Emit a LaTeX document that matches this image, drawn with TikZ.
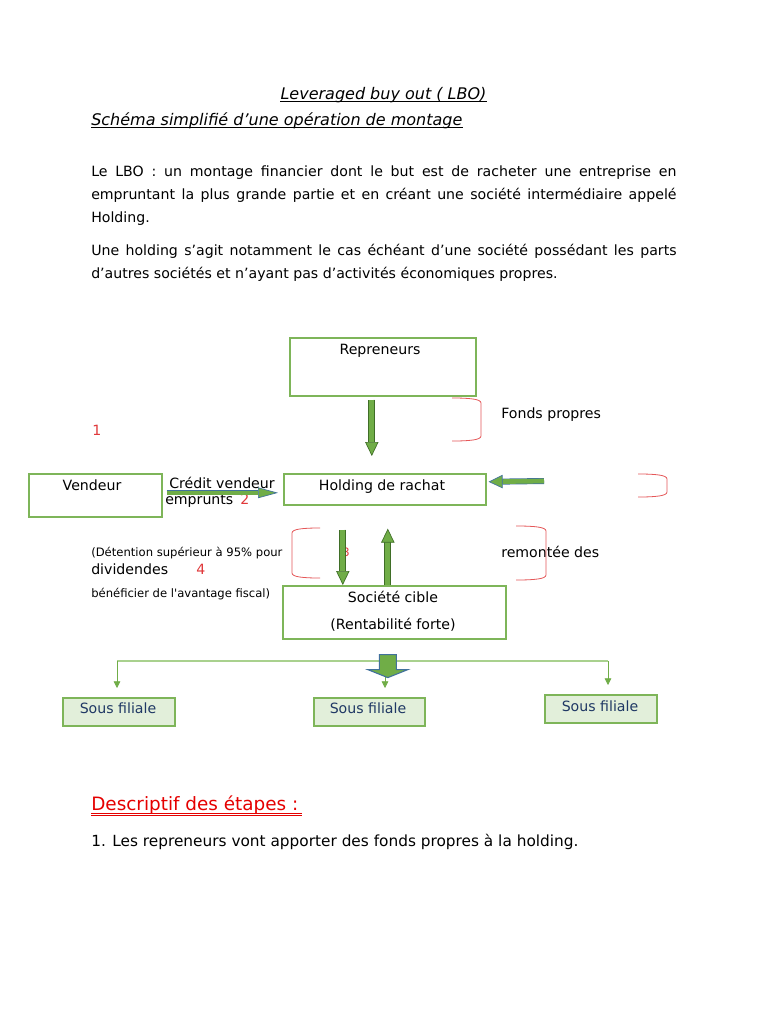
\documentclass[tikz,border=0pt]{standalone}
\usepackage{fontspec}
\setmainfont{DejaVu Sans}
\definecolor{lboGreen}{HTML}{70AD47}
\definecolor{lboGreenDark}{HTML}{3F6E27}
\definecolor{lboBlue}{HTML}{41719C}
\definecolor{lboLight}{HTML}{E2EFDA}
\definecolor{lboLine}{HTML}{A9D18E}
\definecolor{lboRed}{HTML}{E0393B}
\definecolor{lboNavy}{HTML}{1F3864}
\usetikzlibrary{
	arrows.meta,
	positioning,
	calc
}

\begin{document}
\begin{tikzpicture}[x=0.75pt, y=-0.75pt,
		txt/.style={inner sep=0pt, font=\fontsize{10.6pt}{17.25pt}\selectfont},
		small/.style={txt, font=\fontsize{8.7pt}{12pt}\selectfont},
		num/.style={txt, text=lboRed},
		para/.style={txt, text width=439pt, align=justify, anchor=base west},
		box/.style={draw=lboGreen!90, line width=1.2pt, anchor=north west, inner sep=0pt},
		filiale/.style={box, fill=lboLight},
		fatArrow/.style={draw=lboGreenDark, line width=0.5pt, double=lboGreen, double distance=4pt,
			-{Triangle[length=10.5pt, width=10pt, fill=lboGreen]}},
		bluArrow/.style={fatArrow, draw=lboBlue},
		thinArrow/.style={draw=lboGreen, line width=0.6pt, shorten >=6.75pt,
			-{Triangle[length=5pt, width=5pt]}},
		bracket/.style={draw=lboRed!85, line width=0.6pt},
		souligne/.style={line width=0.6pt}
	]
	\fill[white] (0,0) rectangle (768,1024);
	\useasboundingbox (0,0) rectangle (768,1024);

	% titres
	\node[txt, anchor=base, font=\fontsize{12pt}{14pt}\selectfont\itshape] (titre) at (383.5,99) {Leveraged buy out ( LBO)};
	\node[txt, anchor=base west, font=\fontsize{12pt}{14pt}\selectfont\itshape] (soustitre) at (91,125) {Schéma simplifié d’une opération de montage\ };
	\draw[souligne] ($(titre.base west)+(0,2.5)$) -- ($(titre.base east)+(0,2.5)$);
	\draw[souligne] ($(soustitre.base west)+(0,2.5)$) -- ($(soustitre.base east)+(0,2.5)$);
	\node[para] (def) at (91,176) {Le LBO~: un montage financier dont le but est de racheter une entreprise en\linebreak
		empruntant la plus grande partie et en créant une société intermédiaire appelé\linebreak Holding.};
	\node[para] (holdingdef) at (91,255) {Une holding s’agit notamment le cas échéant d’une société possédant les parts\linebreak
		d’autres sociétés et n’ayant pas d’activités économiques propres.};

	% boites
	\node[box, minimum width=139.5pt, minimum height=43.5pt] (rep) at (289,337) {};
	\node[box, minimum width=99.75pt, minimum height=32.25pt] (vend) at (28,473) {};
	\node[box, minimum width=151.5pt, minimum height=23.25pt] (hold) at (283,473) {};
	\node[box, minimum width=167.25pt, minimum height=39.75pt] (cible) at (282,585) {};
	\node[filiale, minimum width=84pt, minimum height=21pt] (sf1) at (62,697) {};
	\node[filiale, minimum width=83.25pt, minimum height=21pt] (sf2) at (313,697) {};
	\node[filiale, minimum width=84pt, minimum height=21pt] (sf3) at (544,694) {};

	% textes des boites
	\node[txt, anchor=base] (repT) at (380,354) {Repreneurs};
	\node[txt, anchor=base] (vendT) at (92,490) {Vendeur};
	\node[txt, anchor=base] (holdT) at (382,490) {Holding de rachat};
	\node[txt, anchor=base] (cibleT) at (393,602) {Société cible};
	\node[txt, anchor=base] (rentaT) at (393,629) {(Rentabilité forte)};
	\foreach \n/\x/\y in {1/118/713, 2/368/713, 3/600/711}{
		\node[txt, anchor=base, text=lboNavy] (sf\n T) at (\x,\y) {Sous filiale};
	}

	% libelles
	\node[txt, anchor=base west] (fonds) at (501,418) {Fonds propres};
	\node[num, anchor=base west] (n1) at (92,435) {1};
	\node[txt, anchor=base west] (credit) at (169,488) {Crédit vendeur};
	\node[txt, anchor=base west] (emprunts) at (165,504) {emprunts};
	\node[num, anchor=base west] (n2) at (240,504) {2};
	\node[small, anchor=base west] (detention) at (91,556) {(Détention supérieur à 95\% pour};
	\node[num, anchor=base west, font=\fontsize{8.7pt}{12pt}\selectfont] (n3) at (342,556) {3};
	\node[txt, anchor=base west] (remontee) at (501,557) {remontée des};
	\node[txt, anchor=base west] (divid) at (91,574) {dividendes};
	\node[num, anchor=base west] (n4) at (196,574) {4};
	\node[small, anchor=base west] (fiscal) at (91,597) {bénéficier de l\textquotesingle avantage fiscal)};

	% accolades rouges
	\foreach \x/\y/\w/\h in {452/398/29/43, 638/474/29/23, 516/526/30/54}{
		\draw[bracket] (\x,\y) .. controls (\x+0.6*\w,\y) and (\x+\w,\y+1) .. (\x+\w,\y+5)
			-- (\x+\w,\y+\h-5) .. controls (\x+\w,\y+\h-1) and (\x+0.6*\w,\y+\h) .. (\x,\y+\h);
	}
	\draw[bracket] (320,528) .. controls (303,528) and (292,529) .. (292,533)
		-- (292,573) .. controls (292,577) and (303,578) .. (320,578);

	% fleches
	\coordinate (banque) at (544,481);
	\draw[fatArrow] ($(rep.south)+(-11,3)$) -- ($(hold.north)+(-13,-17)$);
	\draw[bluArrow, double distance=3pt, -{Triangle[length=15pt, width=8pt, fill=lboGreen]}] ($(vend.east)+(4,-2.5)$) -- ($(hold.west)+(-5,3.5)$);
	\draw[bluArrow, double distance=3.5pt] (banque) -- ($(hold.east)+(2,-7.5)$);
	\draw[fatArrow] ($(hold.south)+(-42,24)$) -- ($(cible.north)+(-51.5,0)$);
	\draw[fatArrow] ($(cible.north)+(-6.5,0)$) -- ($(hold.south)+(3,23)$);

	% vers les sous filiales
	\coordinate (busL) at (117,661);
	\coordinate (busM) at (385,661);
	\coordinate (busR) at (608,661);
	\draw[lboLine, line width=0.9pt] (busL) -- (busR);
	\draw[thinArrow] (busL) -- (busL |- sf1.north);
	\draw[thinArrow] (busM) -- (busM |- sf2.north);
	\draw[thinArrow] (busR) -- (busR |- sf3.north);
	\coordinate (blk) at ($(cible.south)+(-6.5,15)$);
	\draw[fill=lboGreen, draw=lboBlue, line width=0.8pt] ($(blk)+(-8.5,0)$) -- ++(17,0) -- ++(0,15)
		-- ++(11.5,0) -- ++(-20,8) -- ++(-20,-8) -- ++(11.5,0) -- cycle;

	% etapes
	\node[txt, anchor=base west, text=red!90!black, font=\fontsize{13.8pt}{16pt}\selectfont] (etapes) at (91,810) {Descriptif des étapes :};
	\draw[souligne, red!90!black] ($(etapes.base west)+(0,3)$) -- ($(etapes.base east)+(3,3)$);
	\draw[souligne, red!90!black] ($(etapes.base west)+(0,5.5)$) -- ($(etapes.base east)+(3,5.5)$);
	\node[txt, anchor=base west, font=\fontsize{11.5pt}{14pt}\selectfont] (etape1) at (91,846) {1. Les repreneurs vont apporter des fonds propres à la holding.};
\end{tikzpicture}
\end{document}
